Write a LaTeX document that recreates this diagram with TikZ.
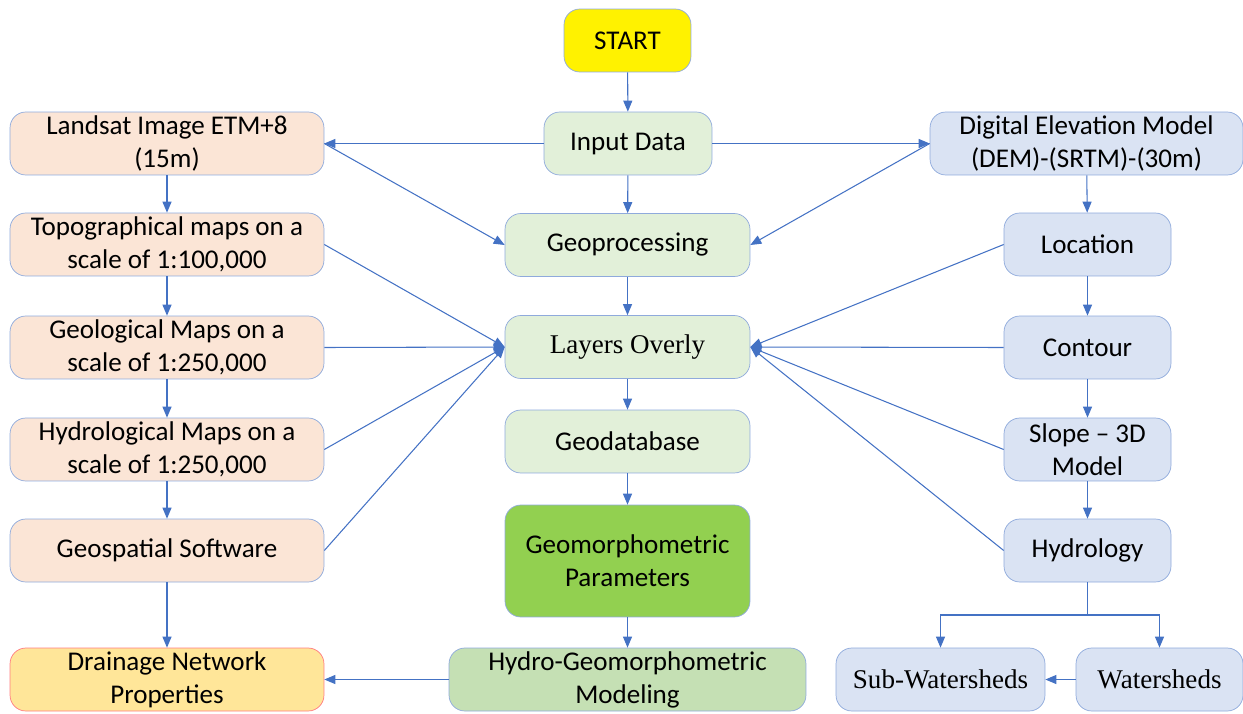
\documentclass[tikz,border=0pt]{standalone}
\usepackage{fontspec}
\setmainfont{Carlito}
\newfontfamily\timesfont{Liberation Serif}
\usetikzlibrary{arrows.meta}
\definecolor{edgeblue}{HTML}{8FAADC}
\definecolor{arrowblue}{HTML}{4472C4}
\definecolor{fillorange}{HTML}{FBE5D6}
\definecolor{fillgreen}{HTML}{E2F0D9}
\definecolor{fillblue}{HTML}{DAE3F3}
\definecolor{fillgold}{HTML}{FFE699}
\definecolor{edgered}{HTML}{FF7C80}
\definecolor{fillleaf}{HTML}{92D050}
\definecolor{fillsage}{HTML}{C5E0B4}
\tikzset{
  box/.style={
    draw=edgeblue,
    rounded corners=9pt,
    align=center,
    inner sep=1pt,
    minimum height=1.26cm,
    font=\fontsize{15.4}{18.8}\selectfont
  },
  leftbox/.style={box, fill=fillorange, minimum width=6.28cm},
  midbox/.style={box, fill=fillgreen, minimum width=4.9cm},
  rightbox/.style={box, fill=fillblue, minimum width=3.34cm},
  flow/.style={
    -{Triangle[length=2.2mm,width=1.8mm]},
    draw=arrowblue,
    semithick
  }
}
\begin{document}
\begin{tikzpicture}[x=0.02cm,y=-0.02cm]
  \useasboundingbox (0,0) rectangle (1243,713);

  % centre column
  \node[box, fill=yellow, minimum width=2.54cm] (start) at (627.5,40.5) {START};
  \node[midbox, minimum width=3.36cm] (input) at (628,143.5) {Input Data};
  \node[midbox] (geop) at (627.5,245) {Geoprocessing};
  \node[midbox, font=\fontsize{15.4}{18.8}\timesfont] (layers) at (627.5,347) {Layers Overly};
  \node[midbox] (gdb) at (627.5,441.5) {Geodatabase};
  \node[midbox, fill=fillleaf, minimum height=2.24cm] (param) at (627.5,561) {Geomorphometric\\Parameters};
  \node[midbox, fill=fillsage, minimum width=7.14cm] (model) at (627.5,679.5) {Hydro-Geomorphometric\\Modeling};

  % left column
  \node[leftbox] (landsat) at (167,143.5) {Landsat Image ETM+8\\(15m)};
  \node[leftbox] (topo) at (167,244.5) {Topographical maps on a\\scale of 1:100,000};
  \node[leftbox] (geol) at (167,347.5) {Geological Maps on a\\scale of 1:250,000};
  \node[leftbox] (hydmap) at (167,449.5) {Hydrological Maps on a\\scale of 1:250,000};
  \node[leftbox] (soft) at (167,550.5) {Geospatial Software};
  \node[leftbox, fill=fillgold, draw=edgered] (drain) at (167,679.5) {Drainage Network\\Properties};

  % right column
  \node[rightbox, minimum width=6.26cm] (dem) at (1086.5,143.5) {Digital Elevation Model\\(DEM)-(SRTM)-(30m)};
  \node[rightbox] (loc) at (1087.5,244.5) {Location};
  \node[rightbox] (contour) at (1087.5,347.5) {Contour};
  \node[rightbox] (slope) at (1087.5,449.5) {Slope -- 3D\\Model};
  \node[rightbox] (hydro) at (1087.5,550.5) {Hydrology};
  \node[rightbox, minimum width=4.18cm, font=\fontsize{15.4}{18.8}\timesfont] (sub) at (940.5,679.5) {Sub-Watersheds};
  \node[rightbox, font=\fontsize{15.4}{18.8}\timesfont] (wat) at (1159.5,679.5) {Watersheds};
  \coordinate (split) at (1087.5,615);

  % main flow
  \draw[flow] (start) -- (input);
  \draw[flow] (input) -- (geop);
  \draw[flow] (geop) -- (layers);
  \draw[flow] (layers) -- (gdb);
  \draw[flow] (gdb) -- (param);
  \draw[flow] (param) -- (model);
  \draw[flow] (model) -- (drain);
  \draw[flow] (input) -- (landsat);
  \draw[flow] (input) -- (dem);
  \draw[flow] (landsat.east) -- (geop.west);
  \draw[flow] (dem.west) -- (geop.east);

  % left chain
  \draw[flow] (landsat) -- (topo);
  \draw[flow] (topo) -- (geol);
  \draw[flow] (geol) -- (hydmap);
  \draw[flow] (hydmap) -- (soft);
  \draw[flow] (soft) -- (drain);
  \foreach \src in {topo,geol,hydmap,soft}
    \draw[flow] (\src.east) -- (layers.west);

  % right chain
  \draw[flow] (dem) -- (loc);
  \draw[flow] (loc) -- (contour);
  \draw[flow] (contour) -- (slope);
  \draw[flow] (slope) -- (hydro);
  \foreach \src in {loc,contour,slope,hydro}
    \draw[flow] (\src.west) -- (layers.east);
  \draw[draw=arrowblue, semithick] (hydro) -- (split);
  \draw[flow] (split) -| (sub);
  \draw[flow] (split) -| (wat);
  \draw[flow] (wat) -- (sub);
\end{tikzpicture}
\end{document}
